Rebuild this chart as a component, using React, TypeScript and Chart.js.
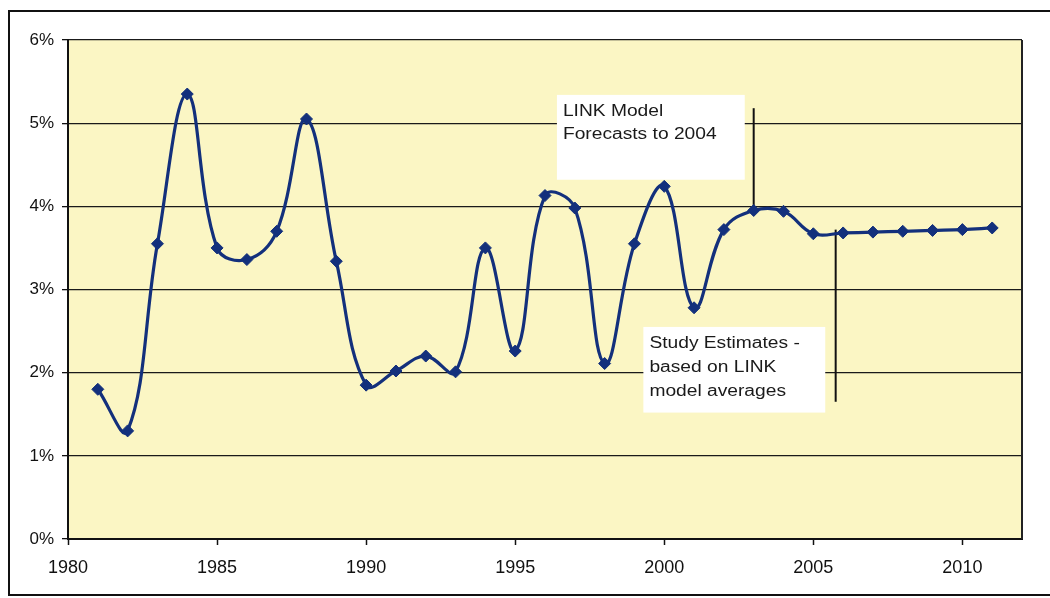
import React, { useEffect, useRef } from "react";
import { Chart, registerables } from "chart.js";

Chart.register(...registerables);

const years = [
  1981, 1982, 1983, 1984, 1985, 1986, 1987, 1988, 1989, 1990,
  1991, 1992, 1993, 1994, 1995, 1996, 1997, 1998, 1999, 2000,
  2001, 2002, 2003, 2004, 2005, 2006, 2007, 2008, 2009, 2010, 2011,
];
const growthPct = [
  1.8, 1.3, 3.55, 5.35, 3.5, 3.36, 3.7, 5.05, 3.34, 1.85,
  2.02, 2.2, 2.01, 3.5, 2.26, 4.13, 3.98, 2.11, 3.55, 4.24,
  2.78, 3.72, 3.95, 3.94, 3.67, 3.68, 3.69, 3.7, 3.71, 3.72, 3.74,
];
const xTickYears = [1980, 1985, 1990, 1995, 2000, 2005, 2010];
const yTickPct = [0, 1, 2, 3, 4, 5, 6];

const linkNoteLines = ["LINK Model", "Forecasts to 2004"];
const studyNoteLines = ["Study Estimates -", "based on LINK", "model averages"];

// annotation anchors in data units: [x0, x1, yTop, yBottom]
const linkBox = [1996.4, 2002.7, 5.34, 4.32];
const linkLine = [2003, 5.18, 3.99];
const studyBox = [1999.3, 2005.4, 2.55, 1.52];
const studyLine = [2005.75, 3.72, 1.65];

const FONT = "'Liberation Sans', Arial, Helvetica, sans-serif";

export default function App() {
  const ref = useRef<HTMLCanvasElement | null>(null);

  useEffect(() => {
    const canvas = ref.current;
    if (!canvas) return;

    const decor = {
      id: "decor",
      beforeDraw(chart: any) {
        const { ctx, chartArea } = chart;
        ctx.save();
        ctx.fillStyle = "#ffffff";
        ctx.fillRect(0, 0, chart.width, chart.height);
        ctx.fillStyle = "#FBF6C4";
        ctx.fillRect(
          chartArea.left,
          chartArea.top,
          chartArea.right - chartArea.left,
          chartArea.bottom - chartArea.top
        );
        // outer frame
        ctx.strokeStyle = "#111";
        ctx.lineWidth = 2;
        ctx.strokeRect(9, 11, chart.width + 20, chart.height - 14);
        ctx.restore();
      },
      beforeDatasetsDraw(chart: any) {
        const { ctx, chartArea } = chart;
        const xs = chart.scales.x;
        const ys = chart.scales.y;
        ctx.save();
        // right border of plot
        ctx.strokeStyle = "#222";
        ctx.lineWidth = 2;
        ctx.beginPath();
        ctx.moveTo(chartArea.right, chartArea.top);
        ctx.lineTo(chartArea.right, chartArea.bottom);
        ctx.stroke();

        const drawBox = (b: number[], lines: string[], lineGap: number) => {
          const x0 = xs.getPixelForValue(b[0]);
          const x1 = xs.getPixelForValue(b[1]);
          const y0 = ys.getPixelForValue(b[2]);
          const y1 = ys.getPixelForValue(b[3]);
          ctx.fillStyle = "#ffffff";
          ctx.fillRect(x0, y0, x1 - x0, y1 - y0);
          ctx.fillStyle = "#1a1a1a";
          ctx.font = `16px ${FONT}`;
          ctx.textBaseline = "middle";
          ctx.textAlign = "left";
          lines.forEach((t, i) => {
            ctx.save();
            ctx.translate(x0 + 6, y0 + 17 + i * lineGap);
            ctx.scale(1.2, 1);
            ctx.fillText(t, 0, 0);
            ctx.restore();
          });
        };
        drawBox(linkBox, linkNoteLines, 23);
        drawBox(studyBox, studyNoteLines, 24);

        const drawV = (l: number[]) => {
          const x = xs.getPixelForValue(l[0]);
          ctx.strokeStyle = "#111";
          ctx.lineWidth = 2;
          ctx.beginPath();
          ctx.moveTo(x, ys.getPixelForValue(l[1]));
          ctx.lineTo(x, ys.getPixelForValue(l[2]));
          ctx.stroke();
        };
        drawV(linkLine);
        drawV(studyLine);
        ctx.restore();
      },
    };

    const chart = new Chart(canvas, {
      type: "line",
      data: {
        datasets: [
          {
            data: years.map((y, i) => ({ x: y, y: growthPct[i] })),
            borderColor: "#13307C",
            backgroundColor: "#13307C",
            borderWidth: 3.2,
            tension: 0.4,
            pointStyle: "rectRot",
            pointRadius: 6,
            pointBackgroundColor: "#13307C",
            pointBorderColor: "#13307C",
            pointBorderWidth: 1,
            fill: false,
          },
        ],
      },
      options: {
        responsive: false,
        animation: false,
        devicePixelRatio: 1,
        layout: { padding: { left: 0, right: 28, top: 40, bottom: 0 } },
        plugins: {
          legend: { display: false },
          tooltip: { enabled: false },
        },
        scales: {
          x: {
            type: "linear",
            min: 1980,
            max: 2012,
            afterBuildTicks: (s: any) => {
              s.ticks = xTickYears.map((v) => ({ value: v }));
            },
            afterFit: (s: any) => {
              s.height = 59;
            },
            ticks: {
              callback: (v: any) => String(v),
              font: { family: FONT, size: 18 },
              color: "#111",
              padding: 12,
              maxRotation: 0,
              autoSkip: false,
            },
            grid: {
              drawOnChartArea: false,
              drawTicks: true,
              tickLength: 6,
              tickColor: "#111",
              tickWidth: 1.5,
            },
            border: { display: true, color: "#111", width: 2 },
          },
          y: {
            min: 0,
            max: 6,
            afterBuildTicks: (s: any) => {
              s.ticks = yTickPct.map((v) => ({ value: v }));
            },
            afterFit: (s: any) => {
              s.width = 68;
            },
            ticks: {
              callback: (v: any) => `${v}%`,
              font: { family: FONT, size: 17 },
              color: "#111",
              padding: 8,
            },
            grid: {
              color: "#1a1a1a",
              lineWidth: 1.3,
              drawTicks: true,
              tickLength: 6,
              tickColor: "#111",
            },
            border: { display: true, color: "#111", width: 2 },
          },
        },
      },
      plugins: [decor],
    } as any);

    return () => chart.destroy();
  }, []);

  return (
    <div style={{ position: "fixed", left: 0, top: 0, width: 1050, height: 598 }}>
      <canvas ref={ref} width={1050} height={598} style={{ display: "block" }} />
    </div>
  );
}
